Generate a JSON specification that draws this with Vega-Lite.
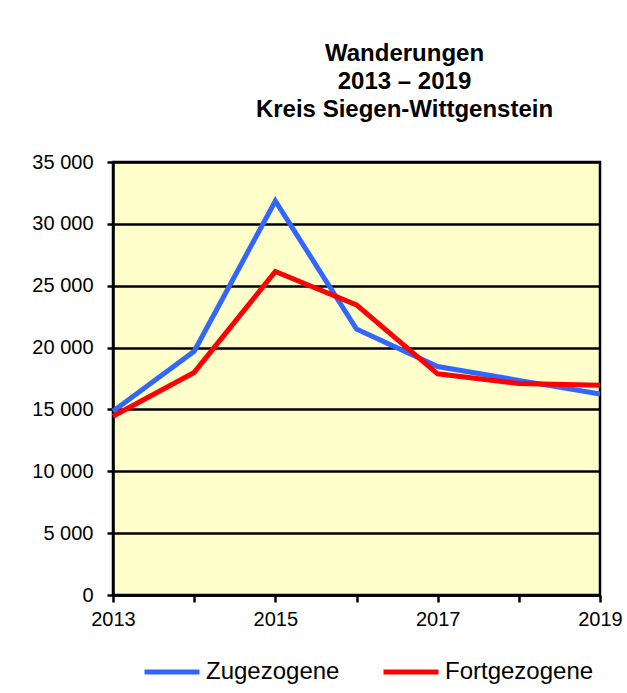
{
  "$schema": "https://vega.github.io/schema/vega-lite/v6.json",
  "width": 487,
  "height": 433,
  "autosize": {"type": "none"},
  "padding": {"left": 113, "top": 162, "right": 27, "bottom": 98},
  "background": "white",
  "title": {
    "text": ["Wanderungen", "2013 – 2019", "Kreis Siegen-Wittgenstein"],
    "anchor": "middle",
    "frame": "group",
    "dx": 48,
    "offset": 30,
    "font": "Liberation Sans",
    "fontSize": 24,
    "fontWeight": "bold",
    "lineHeight": 28,
    "color": "black"
  },
  "data": {
    "values": [
      {"Jahr": 2013, "Serie": "Zugezogene", "Wert": 14850},
      {"Jahr": 2014, "Serie": "Zugezogene", "Wert": 19700},
      {"Jahr": 2015, "Serie": "Zugezogene", "Wert": 31850},
      {"Jahr": 2016, "Serie": "Zugezogene", "Wert": 21500},
      {"Jahr": 2017, "Serie": "Zugezogene", "Wert": 18470},
      {"Jahr": 2018, "Serie": "Zugezogene", "Wert": 17350},
      {"Jahr": 2019, "Serie": "Zugezogene", "Wert": 16250},
      {"Jahr": 2013, "Serie": "Fortgezogene", "Wert": 14450},
      {"Jahr": 2014, "Serie": "Fortgezogene", "Wert": 17990},
      {"Jahr": 2015, "Serie": "Fortgezogene", "Wert": 26150},
      {"Jahr": 2016, "Serie": "Fortgezogene", "Wert": 23450},
      {"Jahr": 2017, "Serie": "Fortgezogene", "Wert": 17880},
      {"Jahr": 2018, "Serie": "Fortgezogene", "Wert": 17100},
      {"Jahr": 2019, "Serie": "Fortgezogene", "Wert": 16950}
    ]
  },
  "mark": {"type": "line", "strokeWidth": 5, "strokeJoin": "miter", "clip": false},
  "encoding": {
    "x": {
      "field": "Jahr",
      "type": "quantitative",
      "scale": {"domain": [2013, 2019], "nice": false, "zero": false},
      "axis": {
        "title": null,
        "values": [2013, 2014, 2015, 2016, 2017, 2018, 2019],
        "labelExpr": "(datum.value - 2013) % 2 == 0 ? format(datum.value, 'd') : ''",
        "grid": false,
        "tickSize": 7,
        "tickWidth": 2.5,
        "tickColor": "black",
        "domainColor": "black",
        "domainWidth": 2.5,
        "labelFont": "Liberation Sans",
        "labelFontSize": 20,
        "labelColor": "black",
        "labelPadding": 7,
        "labelFlush": false,
        "labelOverlap": false
      }
    },
    "y": {
      "field": "Wert",
      "type": "quantitative",
      "scale": {"domain": [0, 35000], "nice": false},
      "axis": {
        "title": null,
        "values": [0, 5000, 10000, 15000, 20000, 25000, 30000, 35000],
        "labelExpr": "replace(format(datum.value, ','), ',', ' ')",
        "grid": true,
        "gridColor": "black",
        "gridWidth": 2.5,
        "gridOpacity": 1,
        "tickSize": 6,
        "tickWidth": 2.5,
        "tickColor": "black",
        "domainColor": "black",
        "domainWidth": 2.5,
        "labelFont": "Liberation Sans",
        "labelFontSize": 20,
        "labelColor": "black",
        "labelPadding": 14,
        "labelFlush": false,
        "labelOverlap": false
      }
    },
    "color": {
      "field": "Serie",
      "type": "nominal",
      "scale": {"domain": ["Zugezogene", "Fortgezogene"], "range": ["#3366FF", "#FF0000"]},
      "legend": {
        "title": null,
        "orient": "none",
        "legendX": 29,
        "legendY": 480,
        "direction": "horizontal",
        "columns": 2,
        "columnPadding": 33,
        "symbolType": "stroke",
        "symbolSize": 3025,
        "symbolStrokeWidth": 5,
        "labelFont": "Liberation Sans",
        "labelFontSize": 24,
        "labelColor": "black",
        "labelOffset": 4,
        "padding": 0
      }
    }
  },
  "config": {
    "view": {"stroke": "black", "strokeWidth": 2.5, "fill": "#FFFFCC"}
  }
}
